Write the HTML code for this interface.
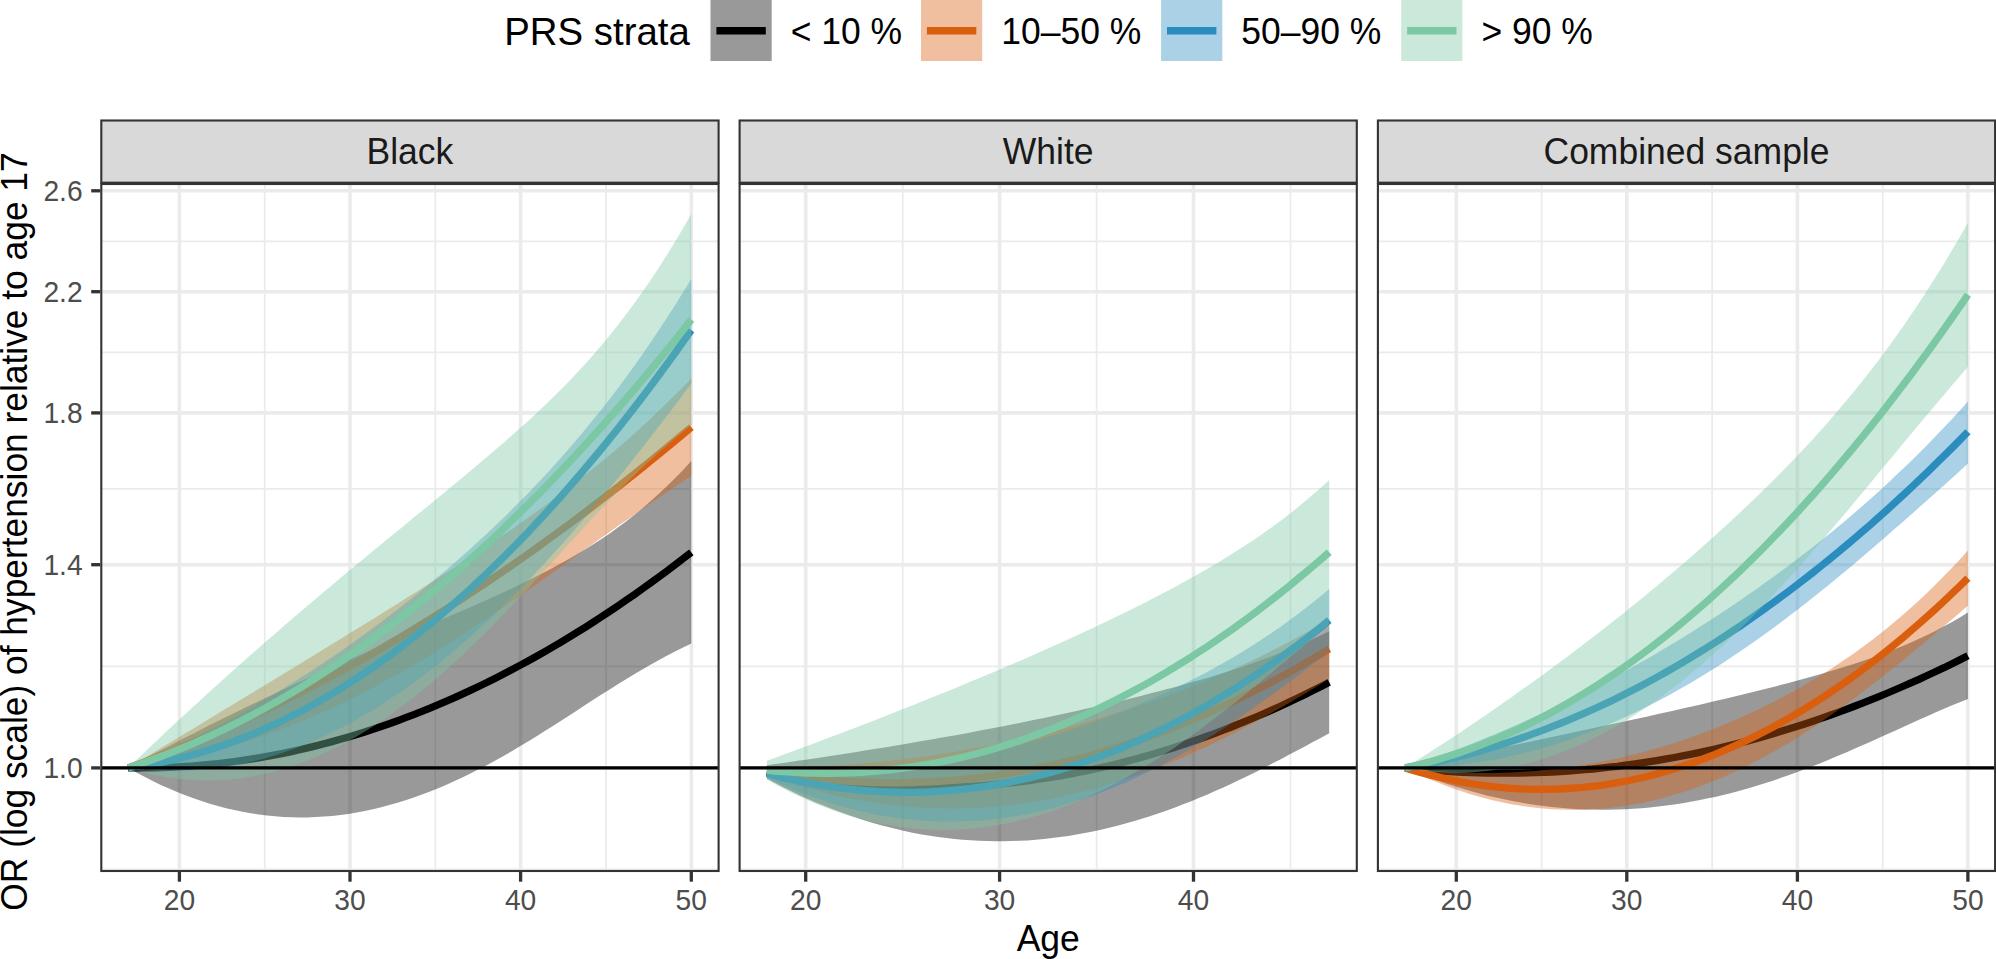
<!DOCTYPE html>
<html><head><meta charset="utf-8"><title>PRS strata</title>
<style>html,body{margin:0;padding:0;background:#fff;width:1996px;height:959px;overflow:hidden}svg{display:block}text{font-family:"Liberation Sans",sans-serif}</style></head>
<body>
<svg width="1996" height="959" viewBox="0 0 1996 959">
<rect width="1996" height="959" fill="#fff"/>
<g id="legend">
<text transform="translate(504.2,44.7) scale(1,1.035)" font-size="38.4" fill="#000">PRS strata</text>
<line x1="716.4" y1="30.7" x2="765.8" y2="30.7" stroke="#000000" stroke-width="7.4"/>
<rect x="710.5" y="-0.2" width="61.2" height="61.2" fill="#000000" fill-opacity="0.4"/>
<text transform="translate(790.7,43.6) scale(1,1.035)" font-size="35.5" fill="#000">&lt; 10 %</text>
<line x1="926.9" y1="30.7" x2="976.3" y2="30.7" stroke="#d95f0e" stroke-width="7.4"/>
<rect x="921.0" y="-0.2" width="61.2" height="61.2" fill="#d95f0e" fill-opacity="0.4"/>
<text transform="translate(1001.2,43.6) scale(1,1.035)" font-size="35.5" fill="#000">10–50 %</text>
<line x1="1167.0" y1="30.7" x2="1216.4" y2="30.7" stroke="#2b8cbe" stroke-width="7.4"/>
<rect x="1161.1" y="-0.2" width="61.2" height="61.2" fill="#2b8cbe" fill-opacity="0.4"/>
<text transform="translate(1241.3,43.6) scale(1,1.035)" font-size="35.5" fill="#000">50–90 %</text>
<line x1="1407.1" y1="30.7" x2="1456.5" y2="30.7" stroke="#7cc8a4" stroke-width="7.4"/>
<rect x="1401.2" y="-0.2" width="61.2" height="61.2" fill="#7cc8a4" fill-opacity="0.4"/>
<text transform="translate(1481.4,43.6) scale(1,1.035)" font-size="35.5" fill="#000">&gt; 90 %</text>
</g>
<g id="panel0">
<rect x="101.3" y="120.5" width="617.3" height="62.2" fill="#d9d9d9" stroke="#333" stroke-width="2.1"/>
<text transform="translate(409.9,163.8) scale(1,1.035)" font-size="35.5" fill="#1a1a1a" text-anchor="middle">Black</text>
<clipPath id="cp0"><rect x="101.3" y="184.0" width="617.3" height="687.0"/></clipPath>
<g clip-path="url(#cp0)">
<line x1="101.3" x2="718.6" y1="666.3" y2="666.3" stroke="#ebebeb" stroke-width="1.75"/>
<line x1="101.3" x2="718.6" y1="488.8" y2="488.8" stroke="#ebebeb" stroke-width="1.75"/>
<line x1="101.3" x2="718.6" y1="352.3" y2="352.3" stroke="#ebebeb" stroke-width="1.75"/>
<line x1="101.3" x2="718.6" y1="241.3" y2="241.3" stroke="#ebebeb" stroke-width="1.75"/>
<line x1="101.3" x2="718.6" y1="869.4" y2="869.4" stroke="#ebebeb" stroke-width="1.75"/>
<line x1="264.7" x2="264.7" y1="184.0" y2="871.0" stroke="#ebebeb" stroke-width="1.75"/>
<line x1="435.3" x2="435.3" y1="184.0" y2="871.0" stroke="#ebebeb" stroke-width="1.75"/>
<line x1="606.0" x2="606.0" y1="184.0" y2="871.0" stroke="#ebebeb" stroke-width="1.75"/>
<line x1="101.3" x2="718.6" y1="767.9" y2="767.9" stroke="#ebebeb" stroke-width="3.6"/>
<line x1="101.3" x2="718.6" y1="564.7" y2="564.7" stroke="#ebebeb" stroke-width="3.6"/>
<line x1="101.3" x2="718.6" y1="412.9" y2="412.9" stroke="#ebebeb" stroke-width="3.6"/>
<line x1="101.3" x2="718.6" y1="291.7" y2="291.7" stroke="#ebebeb" stroke-width="3.6"/>
<line x1="101.3" x2="718.6" y1="190.8" y2="190.8" stroke="#ebebeb" stroke-width="3.6"/>
<line x1="179.4" x2="179.4" y1="184.0" y2="871.0" stroke="#ebebeb" stroke-width="3.6"/>
<line x1="350.0" x2="350.0" y1="184.0" y2="871.0" stroke="#ebebeb" stroke-width="3.6"/>
<line x1="520.6" x2="520.6" y1="184.0" y2="871.0" stroke="#ebebeb" stroke-width="3.6"/>
<line x1="691.3" x2="691.3" y1="184.0" y2="871.0" stroke="#ebebeb" stroke-width="3.6"/>
<polygon points="128.2,767.9 136.3,763.4 144.5,759.0 152.7,754.6 160.8,750.3 169.0,746.0 177.1,741.8 185.3,737.6 193.5,733.4 201.6,729.2 209.8,725.1 217.9,721.0 226.1,717.0 234.3,713.0 242.4,709.0 250.6,705.1 258.7,701.2 266.9,697.3 275.1,693.4 283.2,689.6 291.4,685.8 299.6,682.1 307.7,678.3 315.9,674.6 324.0,670.9 332.2,667.3 340.4,663.7 348.5,660.0 356.7,656.4 364.8,652.9 373.0,649.3 381.2,645.8 389.3,642.2 397.5,638.7 405.6,635.2 413.8,631.7 422.0,628.2 430.1,624.7 438.3,621.1 446.5,617.6 454.6,614.1 462.8,610.5 470.9,606.9 479.1,603.3 487.3,599.7 495.4,596.0 503.6,592.2 511.7,588.4 519.9,584.5 528.1,580.6 536.2,576.5 544.4,572.3 552.5,568.0 560.7,563.6 568.9,559.1 577.0,554.3 585.2,549.4 593.3,544.3 601.5,539.0 609.7,533.4 617.8,527.6 626.0,521.4 634.2,515.1 642.3,508.4 650.5,501.3 658.6,494.0 666.8,486.3 675.0,478.3 683.1,469.9 691.3,461.1 691.3,643.6 683.1,647.5 675.0,651.6 666.8,655.8 658.6,660.2 650.5,664.8 642.3,669.5 634.2,674.3 626.0,679.2 617.8,684.3 609.7,689.4 601.5,694.6 593.3,699.8 585.2,705.1 577.0,710.4 568.9,715.7 560.7,720.9 552.5,726.2 544.4,731.3 536.2,736.4 528.1,741.4 519.9,746.3 511.7,751.2 503.6,755.9 495.4,760.4 487.3,764.9 479.1,769.1 470.9,773.3 462.8,777.3 454.6,781.1 446.5,784.7 438.3,788.2 430.1,791.5 422.0,794.6 413.8,797.5 405.6,800.3 397.5,802.8 389.3,805.1 381.2,807.3 373.0,809.2 364.8,811.0 356.7,812.5 348.5,813.9 340.4,815.0 332.2,815.9 324.0,816.6 315.9,817.1 307.7,817.4 299.6,817.4 291.4,817.3 283.2,816.9 275.1,816.3 266.9,815.5 258.7,814.5 250.6,813.3 242.4,811.8 234.3,810.1 226.1,808.2 217.9,806.1 209.8,803.7 201.6,801.1 193.5,798.3 185.3,795.3 177.1,792.1 169.0,788.6 160.8,784.9 152.7,781.0 144.5,776.8 136.3,772.5 128.2,767.9" fill="#000000" fill-opacity="0.4"/>
<polyline points="128.2,767.9 136.3,767.9 144.5,767.9 152.7,767.8 160.8,767.6 169.0,767.3 177.1,766.9 185.3,766.4 193.5,765.9 201.6,765.2 209.8,764.4 217.9,763.6 226.1,762.6 234.3,761.5 242.4,760.4 250.6,759.2 258.7,757.8 266.9,756.4 275.1,754.9 283.2,753.3 291.4,751.6 299.6,749.8 307.7,747.9 315.9,745.9 324.0,743.8 332.2,741.6 340.4,739.3 348.5,736.9 356.7,734.5 364.8,731.9 373.0,729.3 381.2,726.5 389.3,723.7 397.5,720.8 405.6,717.7 413.8,714.6 422.0,711.4 430.1,708.1 438.3,704.7 446.5,701.2 454.6,697.6 462.8,693.9 470.9,690.1 479.1,686.2 487.3,682.3 495.4,678.2 503.6,674.0 511.7,669.8 519.9,665.4 528.1,661.0 536.2,656.5 544.4,651.8 552.5,647.1 560.7,642.3 568.9,637.4 577.0,632.4 585.2,627.3 593.3,622.1 601.5,616.8 609.7,611.4 617.8,605.9 626.0,600.3 634.2,594.7 642.3,588.9 650.5,583.1 658.6,577.1 666.8,571.1 675.0,564.9 683.1,558.7 691.3,552.4" fill="none" stroke="#000000" stroke-width="7.3" stroke-linejoin="round"/>
<polygon points="128.2,767.9 136.3,762.9 144.5,758.0 152.7,753.0 160.8,748.1 169.0,743.2 177.1,738.2 185.3,733.3 193.5,728.4 201.6,723.4 209.8,718.5 217.9,713.5 226.1,708.6 234.3,703.7 242.4,698.7 250.6,693.8 258.7,688.8 266.9,683.9 275.1,678.9 283.2,674.0 291.4,669.0 299.6,664.0 307.7,659.1 315.9,654.1 324.0,649.1 332.2,644.1 340.4,639.1 348.5,634.1 356.7,629.1 364.8,624.0 373.0,619.0 381.2,613.9 389.3,608.8 397.5,603.7 405.6,598.6 413.8,593.5 422.0,588.3 430.1,583.1 438.3,577.9 446.5,572.7 454.6,567.4 462.8,562.1 470.9,556.7 479.1,551.3 487.3,545.9 495.4,540.4 503.6,534.8 511.7,529.2 519.9,523.5 528.1,517.8 536.2,512.0 544.4,506.0 552.5,500.0 560.7,493.9 568.9,487.7 577.0,481.4 585.2,475.0 593.3,468.5 601.5,461.8 609.7,455.0 617.8,448.0 626.0,440.9 634.2,433.7 642.3,426.3 650.5,418.7 658.6,411.0 666.8,403.1 675.0,395.1 683.1,386.9 691.3,378.5 691.3,475.9 683.1,481.3 675.0,486.7 666.8,492.2 658.6,497.8 650.5,503.4 642.3,509.0 634.2,514.7 626.0,520.4 617.8,526.1 609.7,531.9 601.5,537.7 593.3,543.5 585.2,549.4 577.0,555.2 568.9,561.1 560.7,566.9 552.5,572.8 544.4,578.6 536.2,584.4 528.1,590.1 519.9,595.9 511.7,601.5 503.6,607.2 495.4,612.8 487.3,618.3 479.1,623.7 470.9,629.1 462.8,634.5 454.6,639.7 446.5,644.9 438.3,650.0 430.1,655.0 422.0,659.9 413.8,664.7 405.6,669.4 397.5,674.1 389.3,678.6 381.2,683.1 373.0,687.4 364.8,691.7 356.7,695.8 348.5,699.9 340.4,703.8 332.2,707.7 324.0,711.4 315.9,715.0 307.7,718.5 299.6,722.0 291.4,725.3 283.2,728.5 275.1,731.5 266.9,734.5 258.7,737.4 250.6,740.1 242.4,742.8 234.3,745.3 226.1,747.7 217.9,750.0 209.8,752.2 201.6,754.3 193.5,756.3 185.3,758.1 177.1,759.9 169.0,761.5 160.8,763.0 152.7,764.4 144.5,765.6 136.3,766.8 128.2,767.9" fill="#d95f0e" fill-opacity="0.4"/>
<polyline points="128.2,767.9 136.3,764.9 144.5,761.8 152.7,758.7 160.8,755.5 169.0,752.3 177.1,749.0 185.3,745.7 193.5,742.3 201.6,738.9 209.8,735.4 217.9,731.8 226.1,728.2 234.3,724.5 242.4,720.8 250.6,717.0 258.7,713.1 266.9,709.2 275.1,705.2 283.2,701.2 291.4,697.1 299.6,693.0 307.7,688.8 315.9,684.6 324.0,680.3 332.2,675.9 340.4,671.5 348.5,667.0 356.7,662.4 364.8,657.9 373.0,653.2 381.2,648.5 389.3,643.7 397.5,638.9 405.6,634.0 413.8,629.1 422.0,624.1 430.1,619.0 438.3,613.9 446.5,608.8 454.6,603.5 462.8,598.3 470.9,592.9 479.1,587.5 487.3,582.1 495.4,576.6 503.6,571.0 511.7,565.4 519.9,559.7 528.1,554.0 536.2,548.2 544.4,542.3 552.5,536.4 560.7,530.4 568.9,524.4 577.0,518.3 585.2,512.2 593.3,506.0 601.5,499.7 609.7,493.4 617.8,487.1 626.0,480.6 634.2,474.2 642.3,467.6 650.5,461.0 658.6,454.4 666.8,447.7 675.0,440.9 683.1,434.1 691.3,427.2" fill="none" stroke="#d95f0e" stroke-width="7.3" stroke-linejoin="round"/>
<polygon points="128.2,767.9 136.3,764.4 144.5,760.9 152.7,757.4 160.8,753.7 169.0,750.0 177.1,746.1 185.3,742.2 193.5,738.2 201.6,734.1 209.8,730.0 217.9,725.7 226.1,721.4 234.3,716.9 242.4,712.4 250.6,707.8 258.7,703.1 266.9,698.4 275.1,693.5 283.2,688.5 291.4,683.5 299.6,678.4 307.7,673.2 315.9,667.9 324.0,662.4 332.2,657.0 340.4,651.4 348.5,645.7 356.7,639.9 364.8,634.0 373.0,628.1 381.2,622.0 389.3,615.8 397.5,609.6 405.6,603.2 413.8,596.7 422.0,590.1 430.1,583.4 438.3,576.6 446.5,569.7 454.6,562.7 462.8,555.5 470.9,548.2 479.1,540.8 487.3,533.2 495.4,525.5 503.6,517.7 511.7,509.7 519.9,501.5 528.1,493.2 536.2,484.7 544.4,476.0 552.5,467.2 560.7,458.1 568.9,448.8 577.0,439.3 585.2,429.6 593.3,419.6 601.5,409.4 609.7,399.0 617.8,388.3 626.0,377.3 634.2,366.0 642.3,354.4 650.5,342.6 658.6,330.5 666.8,318.1 675.0,305.3 683.1,292.3 691.3,279.1 691.3,383.7 683.1,394.6 675.0,405.4 666.8,416.1 658.6,426.7 650.5,437.2 642.3,447.7 634.2,458.0 626.0,468.2 617.8,478.3 609.7,488.3 601.5,498.2 593.3,507.9 585.2,517.6 577.0,527.0 568.9,536.4 560.7,545.6 552.5,554.6 544.4,563.5 536.2,572.2 528.1,580.8 519.9,589.2 511.7,597.5 503.6,605.5 495.4,613.4 487.3,621.2 479.1,628.7 470.9,636.1 462.8,643.3 454.6,650.3 446.5,657.1 438.3,663.7 430.1,670.2 422.0,676.4 413.8,682.5 405.6,688.4 397.5,694.0 389.3,699.5 381.2,704.8 373.0,709.9 364.8,714.8 356.7,719.5 348.5,724.0 340.4,728.3 332.2,732.3 324.0,736.2 315.9,739.9 307.7,743.4 299.6,746.7 291.4,749.7 283.2,752.6 275.1,755.3 266.9,757.7 258.7,760.0 250.6,762.0 242.4,763.9 234.3,765.5 226.1,766.9 217.9,768.2 209.8,769.2 201.6,770.0 193.5,770.6 185.3,771.0 177.1,771.2 169.0,771.1 160.8,770.9 152.7,770.4 144.5,769.8 136.3,768.9 128.2,767.9" fill="#2b8cbe" fill-opacity="0.4"/>
<polyline points="128.2,767.9 136.3,766.7 144.5,765.4 152.7,764.0 160.8,762.4 169.0,760.7 177.1,758.8 185.3,756.7 193.5,754.5 201.6,752.2 209.8,749.7 217.9,747.0 226.1,744.2 234.3,741.2 242.4,738.1 250.6,734.8 258.7,731.4 266.9,727.8 275.1,724.1 283.2,720.2 291.4,716.1 299.6,711.9 307.7,707.6 315.9,703.1 324.0,698.4 332.2,693.6 340.4,688.7 348.5,683.5 356.7,678.3 364.8,672.8 373.0,667.3 381.2,661.5 389.3,655.7 397.5,649.6 405.6,643.4 413.8,637.1 422.0,630.6 430.1,623.9 438.3,617.1 446.5,610.2 454.6,603.1 462.8,595.8 470.9,588.4 479.1,580.8 487.3,573.1 495.4,565.2 503.6,557.2 511.7,549.0 519.9,540.7 528.1,532.2 536.2,523.5 544.4,514.7 552.5,505.8 560.7,496.7 568.9,487.4 577.0,478.0 585.2,468.4 593.3,458.7 601.5,448.9 609.7,438.8 617.8,428.7 626.0,418.3 634.2,407.8 642.3,397.2 650.5,386.4 658.6,375.5 666.8,364.4 675.0,353.1 683.1,341.7 691.3,330.2" fill="none" stroke="#2b8cbe" stroke-width="7.3" stroke-linejoin="round"/>
<polygon points="128.2,767.9 136.3,760.0 144.5,752.2 152.7,744.5 160.8,736.8 169.0,729.1 177.1,721.5 185.3,714.0 193.5,706.5 201.6,699.0 209.8,691.6 217.9,684.2 226.1,676.8 234.3,669.5 242.4,662.3 250.6,655.1 258.7,647.9 266.9,640.8 275.1,633.7 283.2,626.6 291.4,619.6 299.6,612.6 307.7,605.6 315.9,598.7 324.0,591.8 332.2,585.0 340.4,578.1 348.5,571.3 356.7,564.6 364.8,557.8 373.0,551.1 381.2,544.3 389.3,537.6 397.5,530.9 405.6,524.3 413.8,517.6 422.0,510.9 430.1,504.2 438.3,497.5 446.5,490.8 454.6,484.1 462.8,477.3 470.9,470.5 479.1,463.6 487.3,456.7 495.4,449.8 503.6,442.7 511.7,435.5 519.9,428.3 528.1,420.9 536.2,413.4 544.4,405.7 552.5,397.8 560.7,389.7 568.9,381.4 577.0,372.8 585.2,363.9 593.3,354.8 601.5,345.3 609.7,335.4 617.8,325.2 626.0,314.6 634.2,303.6 642.3,292.1 650.5,280.2 658.6,267.9 666.8,255.1 675.0,241.8 683.1,228.2 691.3,214.0 691.3,425.2 683.1,431.7 675.0,438.5 666.8,445.4 658.6,452.6 650.5,460.0 642.3,467.6 634.2,475.5 626.0,483.5 617.8,491.7 609.7,500.1 601.5,508.6 593.3,517.3 585.2,526.1 577.0,534.9 568.9,543.8 560.7,552.8 552.5,561.7 544.4,570.7 536.2,579.6 528.1,588.4 519.9,597.1 511.7,605.8 503.6,614.3 495.4,622.7 487.3,631.0 479.1,639.1 470.9,647.1 462.8,654.8 454.6,662.4 446.5,669.8 438.3,676.9 430.1,683.9 422.0,690.7 413.8,697.2 405.6,703.5 397.5,709.6 389.3,715.4 381.2,721.1 373.0,726.4 364.8,731.6 356.7,736.4 348.5,741.1 340.4,745.5 332.2,749.6 324.0,753.5 315.9,757.1 307.7,760.5 299.6,763.6 291.4,766.5 283.2,769.1 275.1,771.4 266.9,773.5 258.7,775.3 250.6,776.8 242.4,778.1 234.3,779.1 226.1,779.9 217.9,780.3 209.8,780.6 201.6,780.5 193.5,780.2 185.3,779.6 177.1,778.7 169.0,777.6 160.8,776.2 152.7,774.5 144.5,772.6 136.3,770.3 128.2,767.9" fill="#7cc8a4" fill-opacity="0.4"/>
<polyline points="128.2,767.9 136.3,765.2 144.5,762.4 152.7,759.5 160.8,756.5 169.0,753.4 177.1,750.1 185.3,746.8 193.5,743.3 201.6,739.7 209.8,736.1 217.9,732.3 226.1,728.4 234.3,724.3 242.4,720.2 250.6,715.9 258.7,711.6 266.9,707.1 275.1,702.5 283.2,697.8 291.4,693.0 299.6,688.1 307.7,683.1 315.9,677.9 324.0,672.7 332.2,667.3 340.4,661.8 348.5,656.2 356.7,650.5 364.8,644.7 373.0,638.7 381.2,632.7 389.3,626.5 397.5,620.3 405.6,613.9 413.8,607.4 422.0,600.8 430.1,594.1 438.3,587.2 446.5,580.3 454.6,573.2 462.8,566.1 470.9,558.8 479.1,551.4 487.3,543.9 495.4,536.3 503.6,528.5 511.7,520.7 519.9,512.7 528.1,504.6 536.2,496.5 544.4,488.2 552.5,479.8 560.7,471.2 568.9,462.6 577.0,453.9 585.2,445.0 593.3,436.0 601.5,427.0 609.7,417.8 617.8,408.5 626.0,399.0 634.2,389.5 642.3,379.9 650.5,370.1 658.6,360.2 666.8,350.3 675.0,340.2 683.1,330.0 691.3,319.6" fill="none" stroke="#7cc8a4" stroke-width="7.3" stroke-linejoin="round"/>
<line x1="101.3" x2="718.6" y1="767.85" y2="767.85" stroke="#000" stroke-width="3.4"/>
</g>
<rect x="101.3" y="184.0" width="617.3" height="687.0" fill="none" stroke="#333" stroke-width="2.1"/>
<line x1="179.4" x2="179.4" y1="872.0" y2="881.7" stroke="#333" stroke-width="3.3"/>
<text transform="translate(179.4,910.2) scale(1,1.035)" font-size="28.2" fill="#4d4d4d" text-anchor="middle">20</text>
<line x1="350.0" x2="350.0" y1="872.0" y2="881.7" stroke="#333" stroke-width="3.3"/>
<text transform="translate(350.0,910.2) scale(1,1.035)" font-size="28.2" fill="#4d4d4d" text-anchor="middle">30</text>
<line x1="520.6" x2="520.6" y1="872.0" y2="881.7" stroke="#333" stroke-width="3.3"/>
<text transform="translate(520.6,910.2) scale(1,1.035)" font-size="28.2" fill="#4d4d4d" text-anchor="middle">40</text>
<line x1="691.3" x2="691.3" y1="872.0" y2="881.7" stroke="#333" stroke-width="3.3"/>
<text transform="translate(691.3,910.2) scale(1,1.035)" font-size="28.2" fill="#4d4d4d" text-anchor="middle">50</text>
</g>
<g id="panel1">
<rect x="739.6" y="120.5" width="617.2" height="62.2" fill="#d9d9d9" stroke="#333" stroke-width="2.1"/>
<text transform="translate(1048.2,163.8) scale(1,1.035)" font-size="35.5" fill="#1a1a1a" text-anchor="middle">White</text>
<clipPath id="cp1"><rect x="739.6" y="184.0" width="617.2" height="687.0"/></clipPath>
<g clip-path="url(#cp1)">
<line x1="739.6" x2="1356.8" y1="666.3" y2="666.3" stroke="#ebebeb" stroke-width="1.75"/>
<line x1="739.6" x2="1356.8" y1="488.8" y2="488.8" stroke="#ebebeb" stroke-width="1.75"/>
<line x1="739.6" x2="1356.8" y1="352.3" y2="352.3" stroke="#ebebeb" stroke-width="1.75"/>
<line x1="739.6" x2="1356.8" y1="241.3" y2="241.3" stroke="#ebebeb" stroke-width="1.75"/>
<line x1="739.6" x2="1356.8" y1="869.4" y2="869.4" stroke="#ebebeb" stroke-width="1.75"/>
<line x1="902.7" x2="902.7" y1="184.0" y2="871.0" stroke="#ebebeb" stroke-width="1.75"/>
<line x1="1096.6" x2="1096.6" y1="184.0" y2="871.0" stroke="#ebebeb" stroke-width="1.75"/>
<line x1="1290.5" x2="1290.5" y1="184.0" y2="871.0" stroke="#ebebeb" stroke-width="1.75"/>
<line x1="739.6" x2="1356.8" y1="767.9" y2="767.9" stroke="#ebebeb" stroke-width="3.6"/>
<line x1="739.6" x2="1356.8" y1="564.7" y2="564.7" stroke="#ebebeb" stroke-width="3.6"/>
<line x1="739.6" x2="1356.8" y1="412.9" y2="412.9" stroke="#ebebeb" stroke-width="3.6"/>
<line x1="739.6" x2="1356.8" y1="291.7" y2="291.7" stroke="#ebebeb" stroke-width="3.6"/>
<line x1="739.6" x2="1356.8" y1="190.8" y2="190.8" stroke="#ebebeb" stroke-width="3.6"/>
<line x1="805.7" x2="805.7" y1="184.0" y2="871.0" stroke="#ebebeb" stroke-width="3.6"/>
<line x1="999.6" x2="999.6" y1="184.0" y2="871.0" stroke="#ebebeb" stroke-width="3.6"/>
<line x1="1193.5" x2="1193.5" y1="184.0" y2="871.0" stroke="#ebebeb" stroke-width="3.6"/>
<polygon points="766.9,765.2 775.1,764.1 783.2,762.9 791.4,761.8 799.5,760.6 807.7,759.4 815.8,758.2 824.0,757.0 832.1,755.7 840.3,754.5 848.4,753.2 856.6,751.9 864.7,750.6 872.9,749.3 881.0,748.0 889.2,746.7 897.3,745.3 905.5,743.9 913.6,742.6 921.8,741.1 929.9,739.7 938.1,738.3 946.2,736.8 954.4,735.4 962.5,733.9 970.7,732.4 978.8,730.8 987.0,729.3 995.1,727.7 1003.3,726.2 1011.4,724.6 1019.6,722.9 1027.7,721.3 1035.9,719.6 1044.0,717.9 1052.1,716.2 1060.3,714.5 1068.4,712.7 1076.6,711.0 1084.7,709.1 1092.9,707.3 1101.0,705.4 1109.2,703.6 1117.3,701.6 1125.5,699.7 1133.6,697.7 1141.8,695.7 1149.9,693.6 1158.1,691.5 1166.2,689.3 1174.4,687.2 1182.5,684.9 1190.7,682.6 1198.8,680.3 1207.0,677.9 1215.1,675.4 1223.3,672.9 1231.4,670.3 1239.6,667.7 1247.7,664.9 1255.9,662.1 1264.0,659.1 1272.2,656.1 1280.3,653.0 1288.5,649.7 1296.6,646.3 1304.8,642.8 1312.9,639.1 1321.1,635.2 1329.2,631.2 1329.2,733.3 1321.1,737.7 1312.9,742.0 1304.8,746.4 1296.6,750.8 1288.5,755.1 1280.3,759.4 1272.2,763.6 1264.0,767.8 1255.9,771.9 1247.7,775.9 1239.6,779.8 1231.4,783.7 1223.3,787.4 1215.1,791.1 1207.0,794.7 1198.8,798.1 1190.7,801.4 1182.5,804.6 1174.4,807.7 1166.2,810.7 1158.1,813.6 1149.9,816.3 1141.8,818.8 1133.6,821.3 1125.5,823.6 1117.3,825.8 1109.2,827.8 1101.0,829.7 1092.9,831.5 1084.7,833.1 1076.6,834.6 1068.4,835.9 1060.3,837.1 1052.1,838.1 1044.0,839.0 1035.9,839.8 1027.7,840.4 1019.6,840.8 1011.4,841.1 1003.3,841.3 995.1,841.3 987.0,841.1 978.8,840.8 970.7,840.3 962.5,839.7 954.4,839.0 946.2,838.0 938.1,837.0 929.9,835.8 921.8,834.4 913.6,832.9 905.5,831.2 897.3,829.3 889.2,827.3 881.0,825.2 872.9,822.9 864.7,820.4 856.6,817.8 848.4,815.0 840.3,812.1 832.1,809.0 824.0,805.8 815.8,802.4 807.7,798.9 799.5,795.2 791.4,791.3 783.2,787.3 775.1,783.1 766.9,778.8" fill="#000000" fill-opacity="0.4"/>
<polyline points="766.9,772.0 775.1,773.6 783.2,775.1 791.4,776.5 799.5,777.9 807.7,779.1 815.8,780.3 824.0,781.4 832.1,782.4 840.3,783.3 848.4,784.1 856.6,784.9 864.7,785.5 872.9,786.1 881.0,786.6 889.2,787.0 897.3,787.3 905.5,787.6 913.6,787.7 921.8,787.8 929.9,787.7 938.1,787.6 946.2,787.4 954.4,787.2 962.5,786.8 970.7,786.4 978.8,785.8 987.0,785.2 995.1,784.5 1003.3,783.7 1011.4,782.8 1019.6,781.9 1027.7,780.8 1035.9,779.7 1044.0,778.5 1052.1,777.2 1060.3,775.8 1068.4,774.3 1076.6,772.8 1084.7,771.1 1092.9,769.4 1101.0,767.6 1109.2,765.7 1117.3,763.7 1125.5,761.6 1133.6,759.5 1141.8,757.3 1149.9,754.9 1158.1,752.5 1166.2,750.0 1174.4,747.4 1182.5,744.8 1190.7,742.0 1198.8,739.2 1207.0,736.3 1215.1,733.3 1223.3,730.2 1231.4,727.0 1239.6,723.7 1247.7,720.4 1255.9,717.0 1264.0,713.5 1272.2,709.9 1280.3,706.2 1288.5,702.4 1296.6,698.5 1304.8,694.6 1312.9,690.6 1321.1,686.5 1329.2,682.3" fill="none" stroke="#000000" stroke-width="7.3" stroke-linejoin="round"/>
<polygon points="766.9,767.9 775.1,767.8 783.2,767.7 791.4,767.5 799.5,767.2 807.7,766.9 815.8,766.6 824.0,766.2 832.1,765.7 840.3,765.2 848.4,764.6 856.6,763.9 864.7,763.3 872.9,762.5 881.0,761.7 889.2,760.8 897.3,759.9 905.5,758.9 913.6,757.9 921.8,756.8 929.9,755.7 938.1,754.5 946.2,753.2 954.4,751.9 962.5,750.5 970.7,749.1 978.8,747.6 987.0,746.0 995.1,744.4 1003.3,742.8 1011.4,741.0 1019.6,739.2 1027.7,737.4 1035.9,735.5 1044.0,733.5 1052.1,731.5 1060.3,729.4 1068.4,727.2 1076.6,725.0 1084.7,722.7 1092.9,720.4 1101.0,718.0 1109.2,715.5 1117.3,713.0 1125.5,710.4 1133.6,707.7 1141.8,705.0 1149.9,702.2 1158.1,699.3 1166.2,696.4 1174.4,693.3 1182.5,690.2 1190.7,687.1 1198.8,683.8 1207.0,680.5 1215.1,677.1 1223.3,673.6 1231.4,670.0 1239.6,666.3 1247.7,662.5 1255.9,658.7 1264.0,654.7 1272.2,650.6 1280.3,646.5 1288.5,642.2 1296.6,637.8 1304.8,633.3 1312.9,628.6 1321.1,623.8 1329.2,618.9 1329.2,678.8 1321.1,683.8 1312.9,688.8 1304.8,693.7 1296.6,698.5 1288.5,703.3 1280.3,708.0 1272.2,712.6 1264.0,717.1 1255.9,721.6 1247.7,725.9 1239.6,730.2 1231.4,734.4 1223.3,738.5 1215.1,742.5 1207.0,746.4 1198.8,750.1 1190.7,753.8 1182.5,757.4 1174.4,760.8 1166.2,764.1 1158.1,767.4 1149.9,770.5 1141.8,773.5 1133.6,776.3 1125.5,779.1 1117.3,781.7 1109.2,784.3 1101.0,786.7 1092.9,788.9 1084.7,791.1 1076.6,793.1 1068.4,795.0 1060.3,796.8 1052.1,798.4 1044.0,800.0 1035.9,801.4 1027.7,802.6 1019.6,803.8 1011.4,804.8 1003.3,805.7 995.1,806.5 987.0,807.1 978.8,807.6 970.7,808.0 962.5,808.2 954.4,808.4 946.2,808.3 938.1,808.2 929.9,807.9 921.8,807.6 913.6,807.0 905.5,806.4 897.3,805.6 889.2,804.7 881.0,803.6 872.9,802.4 864.7,801.1 856.6,799.7 848.4,798.1 840.3,796.4 832.1,794.6 824.0,792.6 815.8,790.5 807.7,788.3 799.5,786.0 791.4,783.5 783.2,780.9 775.1,778.1 766.9,775.2" fill="#d95f0e" fill-opacity="0.4"/>
<polyline points="766.9,771.6 775.1,773.0 783.2,774.3 791.4,775.5 799.5,776.6 807.7,777.6 815.8,778.6 824.0,779.4 832.1,780.1 840.3,780.8 848.4,781.4 856.6,781.8 864.7,782.2 872.9,782.5 881.0,782.7 889.2,782.8 897.3,782.8 905.5,782.7 913.6,782.5 921.8,782.2 929.9,781.8 938.1,781.3 946.2,780.8 954.4,780.1 962.5,779.4 970.7,778.5 978.8,777.6 987.0,776.6 995.1,775.4 1003.3,774.2 1011.4,772.9 1019.6,771.5 1027.7,770.0 1035.9,768.4 1044.0,766.7 1052.1,765.0 1060.3,763.1 1068.4,761.1 1076.6,759.1 1084.7,756.9 1092.9,754.7 1101.0,752.3 1109.2,749.9 1117.3,747.4 1125.5,744.7 1133.6,742.0 1141.8,739.2 1149.9,736.3 1158.1,733.3 1166.2,730.3 1174.4,727.1 1182.5,723.8 1190.7,720.4 1198.8,717.0 1207.0,713.4 1215.1,709.8 1223.3,706.0 1231.4,702.2 1239.6,698.3 1247.7,694.2 1255.9,690.1 1264.0,685.9 1272.2,681.6 1280.3,677.2 1288.5,672.7 1296.6,668.1 1304.8,663.5 1312.9,658.7 1321.1,653.8 1329.2,648.9" fill="none" stroke="#d95f0e" stroke-width="7.3" stroke-linejoin="round"/>
<polygon points="766.9,769.2 775.1,769.6 783.2,770.0 791.4,770.3 799.5,770.5 807.7,770.6 815.8,770.6 824.0,770.5 832.1,770.4 840.3,770.2 848.4,769.9 856.6,769.5 864.7,769.1 872.9,768.5 881.0,767.9 889.2,767.2 897.3,766.4 905.5,765.6 913.6,764.6 921.8,763.6 929.9,762.5 938.1,761.3 946.2,760.0 954.4,758.6 962.5,757.2 970.7,755.7 978.8,754.0 987.0,752.3 995.1,750.6 1003.3,748.7 1011.4,746.7 1019.6,744.7 1027.7,742.6 1035.9,740.3 1044.0,738.0 1052.1,735.7 1060.3,733.2 1068.4,730.6 1076.6,727.9 1084.7,725.2 1092.9,722.3 1101.0,719.4 1109.2,716.4 1117.3,713.2 1125.5,710.0 1133.6,706.7 1141.8,703.3 1149.9,699.7 1158.1,696.1 1166.2,692.4 1174.4,688.5 1182.5,684.6 1190.7,680.5 1198.8,676.3 1207.0,672.0 1215.1,667.6 1223.3,663.0 1231.4,658.3 1239.6,653.4 1247.7,648.4 1255.9,643.3 1264.0,638.0 1272.2,632.5 1280.3,626.9 1288.5,621.0 1296.6,615.0 1304.8,608.8 1312.9,602.4 1321.1,595.8 1329.2,588.9 1329.2,651.6 1321.1,657.9 1312.9,664.1 1304.8,670.4 1296.6,676.5 1288.5,682.6 1280.3,688.7 1272.2,694.6 1264.0,700.5 1255.9,706.3 1247.7,712.0 1239.6,717.6 1231.4,723.1 1223.3,728.5 1215.1,733.7 1207.0,738.8 1198.8,743.8 1190.7,748.7 1182.5,753.4 1174.4,758.0 1166.2,762.4 1158.1,766.7 1149.9,770.9 1141.8,774.8 1133.6,778.7 1125.5,782.4 1117.3,785.9 1109.2,789.2 1101.0,792.4 1092.9,795.5 1084.7,798.4 1076.6,801.1 1068.4,803.6 1060.3,806.0 1052.1,808.2 1044.0,810.3 1035.9,812.1 1027.7,813.9 1019.6,815.4 1011.4,816.8 1003.3,818.0 995.1,819.0 987.0,819.9 978.8,820.6 970.7,821.1 962.5,821.4 954.4,821.6 946.2,821.6 938.1,821.5 929.9,821.1 921.8,820.6 913.6,819.9 905.5,819.0 897.3,818.0 889.2,816.8 881.0,815.4 872.9,813.9 864.7,812.1 856.6,810.2 848.4,808.1 840.3,805.9 832.1,803.4 824.0,800.8 815.8,798.1 807.7,795.1 799.5,792.0 791.4,788.7 783.2,785.2 775.1,781.5 766.9,777.7" fill="#2b8cbe" fill-opacity="0.4"/>
<polyline points="766.9,773.4 775.1,775.6 783.2,777.6 791.4,779.5 799.5,781.2 807.7,782.8 815.8,784.3 824.0,785.7 832.1,786.9 840.3,788.0 848.4,789.0 856.6,789.9 864.7,790.6 872.9,791.2 881.0,791.7 889.2,792.0 897.3,792.2 905.5,792.3 913.6,792.3 921.8,792.1 929.9,791.8 938.1,791.4 946.2,790.8 954.4,790.1 962.5,789.3 970.7,788.4 978.8,787.3 987.0,786.1 995.1,784.8 1003.3,783.3 1011.4,781.8 1019.6,780.0 1027.7,778.2 1035.9,776.2 1044.0,774.2 1052.1,771.9 1060.3,769.6 1068.4,767.1 1076.6,764.5 1084.7,761.8 1092.9,758.9 1101.0,755.9 1109.2,752.8 1117.3,749.6 1125.5,746.2 1133.6,742.7 1141.8,739.1 1149.9,735.3 1158.1,731.4 1166.2,727.4 1174.4,723.3 1182.5,719.0 1190.7,714.6 1198.8,710.1 1207.0,705.4 1215.1,700.6 1223.3,695.7 1231.4,690.7 1239.6,685.5 1247.7,680.2 1255.9,674.8 1264.0,669.3 1272.2,663.6 1280.3,657.8 1288.5,651.8 1296.6,645.8 1304.8,639.6 1312.9,633.3 1321.1,626.8 1329.2,620.2" fill="none" stroke="#2b8cbe" stroke-width="7.3" stroke-linejoin="round"/>
<polygon points="766.9,760.8 775.1,757.8 783.2,754.8 791.4,751.8 799.5,748.8 807.7,745.7 815.8,742.7 824.0,739.6 832.1,736.5 840.3,733.4 848.4,730.3 856.6,727.2 864.7,724.1 872.9,720.9 881.0,717.7 889.2,714.5 897.3,711.3 905.5,708.1 913.6,704.9 921.8,701.6 929.9,698.3 938.1,695.0 946.2,691.7 954.4,688.4 962.5,685.0 970.7,681.6 978.8,678.2 987.0,674.8 995.1,671.4 1003.3,667.9 1011.4,664.4 1019.6,660.9 1027.7,657.4 1035.9,653.8 1044.0,650.2 1052.1,646.6 1060.3,642.9 1068.4,639.2 1076.6,635.5 1084.7,631.7 1092.9,627.9 1101.0,624.1 1109.2,620.2 1117.3,616.3 1125.5,612.3 1133.6,608.3 1141.8,604.2 1149.9,600.0 1158.1,595.8 1166.2,591.6 1174.4,587.2 1182.5,582.8 1190.7,578.3 1198.8,573.7 1207.0,569.0 1215.1,564.2 1223.3,559.3 1231.4,554.3 1239.6,549.1 1247.7,543.8 1255.9,538.4 1264.0,532.7 1272.2,526.9 1280.3,520.9 1288.5,514.7 1296.6,508.3 1304.8,501.6 1312.9,494.6 1321.1,487.4 1329.2,480.0 1329.2,624.4 1321.1,631.1 1312.9,637.9 1304.8,644.7 1296.6,651.6 1288.5,658.5 1280.3,665.3 1272.2,672.1 1264.0,678.9 1255.9,685.7 1247.7,692.3 1239.6,698.9 1231.4,705.4 1223.3,711.8 1215.1,718.1 1207.0,724.3 1198.8,730.4 1190.7,736.3 1182.5,742.0 1174.4,747.7 1166.2,753.1 1158.1,758.4 1149.9,763.6 1141.8,768.5 1133.6,773.3 1125.5,777.9 1117.3,782.4 1109.2,786.6 1101.0,790.7 1092.9,794.6 1084.7,798.2 1076.6,801.7 1068.4,805.0 1060.3,808.1 1052.1,811.0 1044.0,813.7 1035.9,816.2 1027.7,818.5 1019.6,820.5 1011.4,822.4 1003.3,824.1 995.1,825.5 987.0,826.8 978.8,827.8 970.7,828.7 962.5,829.3 954.4,829.7 946.2,829.9 938.1,829.9 929.9,829.6 921.8,829.2 913.6,828.5 905.5,827.7 897.3,826.6 889.2,825.3 881.0,823.7 872.9,822.0 864.7,820.0 856.6,817.9 848.4,815.5 840.3,812.9 832.1,810.1 824.0,807.0 815.8,803.8 807.7,800.3 799.5,796.6 791.4,792.7 783.2,788.5 775.1,784.2 766.9,779.6" fill="#7cc8a4" fill-opacity="0.4"/>
<polyline points="766.9,770.2 775.1,771.0 783.2,771.7 791.4,772.2 799.5,772.7 807.7,773.0 815.8,773.2 824.0,773.3 832.1,773.3 840.3,773.2 848.4,772.9 856.6,772.5 864.7,772.0 872.9,771.4 881.0,770.7 889.2,769.9 897.3,768.9 905.5,767.9 913.6,766.7 921.8,765.4 929.9,764.0 938.1,762.4 946.2,760.8 954.4,759.0 962.5,757.2 970.7,755.2 978.8,753.0 987.0,750.8 995.1,748.5 1003.3,746.0 1011.4,743.4 1019.6,740.7 1027.7,737.9 1035.9,735.0 1044.0,731.9 1052.1,728.8 1060.3,725.5 1068.4,722.1 1076.6,718.6 1084.7,715.0 1092.9,711.2 1101.0,707.4 1109.2,703.4 1117.3,699.3 1125.5,695.1 1133.6,690.8 1141.8,686.4 1149.9,681.8 1158.1,677.1 1166.2,672.3 1174.4,667.4 1182.5,662.4 1190.7,657.3 1198.8,652.0 1207.0,646.7 1215.1,641.2 1223.3,635.6 1231.4,629.9 1239.6,624.0 1247.7,618.1 1255.9,612.0 1264.0,605.8 1272.2,599.5 1280.3,593.1 1288.5,586.6 1296.6,579.9 1304.8,573.2 1312.9,566.3 1321.1,559.3 1329.2,552.2" fill="none" stroke="#7cc8a4" stroke-width="7.3" stroke-linejoin="round"/>
<line x1="739.6" x2="1356.8" y1="767.85" y2="767.85" stroke="#000" stroke-width="3.4"/>
</g>
<rect x="739.6" y="184.0" width="617.2" height="687.0" fill="none" stroke="#333" stroke-width="2.1"/>
<line x1="805.7" x2="805.7" y1="872.0" y2="881.7" stroke="#333" stroke-width="3.3"/>
<text transform="translate(805.7,910.2) scale(1,1.035)" font-size="28.2" fill="#4d4d4d" text-anchor="middle">20</text>
<line x1="999.6" x2="999.6" y1="872.0" y2="881.7" stroke="#333" stroke-width="3.3"/>
<text transform="translate(999.6,910.2) scale(1,1.035)" font-size="28.2" fill="#4d4d4d" text-anchor="middle">30</text>
<line x1="1193.5" x2="1193.5" y1="872.0" y2="881.7" stroke="#333" stroke-width="3.3"/>
<text transform="translate(1193.5,910.2) scale(1,1.035)" font-size="28.2" fill="#4d4d4d" text-anchor="middle">40</text>
</g>
<g id="panel2">
<rect x="1377.9" y="120.5" width="617.2" height="62.2" fill="#d9d9d9" stroke="#333" stroke-width="2.1"/>
<text transform="translate(1686.5,163.8) scale(1,1.035)" font-size="35.5" fill="#1a1a1a" text-anchor="middle">Combined sample</text>
<clipPath id="cp2"><rect x="1377.9" y="184.0" width="617.2" height="687.0"/></clipPath>
<g clip-path="url(#cp2)">
<line x1="1377.9" x2="1995.1" y1="666.3" y2="666.3" stroke="#ebebeb" stroke-width="1.75"/>
<line x1="1377.9" x2="1995.1" y1="488.8" y2="488.8" stroke="#ebebeb" stroke-width="1.75"/>
<line x1="1377.9" x2="1995.1" y1="352.3" y2="352.3" stroke="#ebebeb" stroke-width="1.75"/>
<line x1="1377.9" x2="1995.1" y1="241.3" y2="241.3" stroke="#ebebeb" stroke-width="1.75"/>
<line x1="1377.9" x2="1995.1" y1="869.4" y2="869.4" stroke="#ebebeb" stroke-width="1.75"/>
<line x1="1541.6" x2="1541.6" y1="184.0" y2="871.0" stroke="#ebebeb" stroke-width="1.75"/>
<line x1="1712.1" x2="1712.1" y1="184.0" y2="871.0" stroke="#ebebeb" stroke-width="1.75"/>
<line x1="1882.7" x2="1882.7" y1="184.0" y2="871.0" stroke="#ebebeb" stroke-width="1.75"/>
<line x1="1377.9" x2="1995.1" y1="767.9" y2="767.9" stroke="#ebebeb" stroke-width="3.6"/>
<line x1="1377.9" x2="1995.1" y1="564.7" y2="564.7" stroke="#ebebeb" stroke-width="3.6"/>
<line x1="1377.9" x2="1995.1" y1="412.9" y2="412.9" stroke="#ebebeb" stroke-width="3.6"/>
<line x1="1377.9" x2="1995.1" y1="291.7" y2="291.7" stroke="#ebebeb" stroke-width="3.6"/>
<line x1="1377.9" x2="1995.1" y1="190.8" y2="190.8" stroke="#ebebeb" stroke-width="3.6"/>
<line x1="1456.3" x2="1456.3" y1="184.0" y2="871.0" stroke="#ebebeb" stroke-width="3.6"/>
<line x1="1626.8" x2="1626.8" y1="184.0" y2="871.0" stroke="#ebebeb" stroke-width="3.6"/>
<line x1="1797.4" x2="1797.4" y1="184.0" y2="871.0" stroke="#ebebeb" stroke-width="3.6"/>
<line x1="1967.9" x2="1967.9" y1="184.0" y2="871.0" stroke="#ebebeb" stroke-width="3.6"/>
<polygon points="1405.1,767.9 1413.3,766.1 1421.4,764.4 1429.6,762.7 1437.8,761.0 1445.9,759.3 1454.1,757.6 1462.2,755.9 1470.4,754.2 1478.5,752.5 1486.7,750.8 1494.9,749.1 1503.0,747.3 1511.2,745.6 1519.3,743.9 1527.5,742.2 1535.6,740.5 1543.8,738.7 1552.0,737.0 1560.1,735.3 1568.3,733.5 1576.4,731.8 1584.6,730.0 1592.7,728.3 1600.9,726.5 1609.1,724.8 1617.2,723.0 1625.4,721.2 1633.5,719.4 1641.7,717.7 1649.8,715.9 1658.0,714.1 1666.2,712.2 1674.3,710.4 1682.5,708.6 1690.6,706.7 1698.8,704.9 1706.9,703.0 1715.1,701.1 1723.2,699.2 1731.4,697.2 1739.6,695.3 1747.7,693.3 1755.9,691.3 1764.0,689.2 1772.2,687.2 1780.3,685.1 1788.5,682.9 1796.7,680.8 1804.8,678.5 1813.0,676.3 1821.1,673.9 1829.3,671.5 1837.4,669.1 1845.6,666.5 1853.8,663.9 1861.9,661.2 1870.1,658.4 1878.2,655.4 1886.4,652.4 1894.5,649.2 1902.7,645.9 1910.9,642.4 1919.0,638.7 1927.2,634.9 1935.3,630.9 1943.5,626.6 1951.6,622.2 1959.8,617.5 1967.9,612.6 1967.9,698.9 1959.8,702.2 1951.6,705.6 1943.5,709.1 1935.3,712.6 1927.2,716.2 1919.0,719.8 1910.9,723.5 1902.7,727.2 1894.5,730.9 1886.4,734.6 1878.2,738.3 1870.1,741.9 1861.9,745.6 1853.8,749.1 1845.6,752.7 1837.4,756.1 1829.3,759.6 1821.1,762.9 1813.0,766.1 1804.8,769.3 1796.7,772.3 1788.5,775.3 1780.3,778.1 1772.2,780.9 1764.0,783.5 1755.9,786.0 1747.7,788.5 1739.6,790.7 1731.4,792.9 1723.2,794.9 1715.1,796.9 1706.9,798.6 1698.8,800.3 1690.6,801.8 1682.5,803.2 1674.3,804.5 1666.2,805.6 1658.0,806.6 1649.8,807.5 1641.7,808.2 1633.5,808.8 1625.4,809.2 1617.2,809.5 1609.1,809.7 1600.9,809.8 1592.7,809.6 1584.6,809.4 1576.4,809.0 1568.3,808.5 1560.1,807.8 1552.0,807.0 1543.8,806.0 1535.6,804.9 1527.5,803.7 1519.3,802.3 1511.2,800.8 1503.0,799.1 1494.9,797.3 1486.7,795.4 1478.5,793.3 1470.4,791.0 1462.2,788.6 1454.1,786.1 1445.9,783.4 1437.8,780.6 1429.6,777.6 1421.4,774.5 1413.3,771.3 1405.1,767.9" fill="#000000" fill-opacity="0.4"/>
<polyline points="1405.1,767.9 1413.3,768.7 1421.4,769.5 1429.6,770.2 1437.8,770.8 1445.9,771.4 1454.1,771.8 1462.2,772.3 1470.4,772.6 1478.5,772.9 1486.7,773.1 1494.9,773.2 1503.0,773.2 1511.2,773.2 1519.3,773.1 1527.5,772.9 1535.6,772.7 1543.8,772.4 1552.0,772.0 1560.1,771.5 1568.3,771.0 1576.4,770.4 1584.6,769.7 1592.7,769.0 1600.9,768.1 1609.1,767.2 1617.2,766.3 1625.4,765.2 1633.5,764.1 1641.7,762.9 1649.8,761.7 1658.0,760.3 1666.2,758.9 1674.3,757.5 1682.5,755.9 1690.6,754.3 1698.8,752.6 1706.9,750.8 1715.1,749.0 1723.2,747.1 1731.4,745.1 1739.6,743.0 1747.7,740.9 1755.9,738.7 1764.0,736.4 1772.2,734.0 1780.3,731.6 1788.5,729.1 1796.7,726.5 1804.8,723.9 1813.0,721.2 1821.1,718.4 1829.3,715.5 1837.4,712.6 1845.6,709.6 1853.8,706.5 1861.9,703.4 1870.1,700.1 1878.2,696.9 1886.4,693.5 1894.5,690.0 1902.7,686.5 1910.9,682.9 1919.0,679.3 1927.2,675.5 1935.3,671.7 1943.5,667.9 1951.6,663.9 1959.8,659.9 1967.9,655.8" fill="none" stroke="#000000" stroke-width="7.3" stroke-linejoin="round"/>
<polygon points="1405.1,767.9 1413.3,768.9 1421.4,769.8 1429.6,770.6 1437.8,771.2 1445.9,771.8 1454.1,772.3 1462.2,772.6 1470.4,772.9 1478.5,773.0 1486.7,773.0 1494.9,773.0 1503.0,772.8 1511.2,772.5 1519.3,772.0 1527.5,771.5 1535.6,770.9 1543.8,770.1 1552.0,769.3 1560.1,768.3 1568.3,767.2 1576.4,766.0 1584.6,764.7 1592.7,763.3 1600.9,761.8 1609.1,760.1 1617.2,758.4 1625.4,756.5 1633.5,754.5 1641.7,752.4 1649.8,750.2 1658.0,747.9 1666.2,745.4 1674.3,742.9 1682.5,740.2 1690.6,737.4 1698.8,734.5 1706.9,731.4 1715.1,728.3 1723.2,725.0 1731.4,721.6 1739.6,718.0 1747.7,714.3 1755.9,710.5 1764.0,706.6 1772.2,702.5 1780.3,698.3 1788.5,694.0 1796.7,689.5 1804.8,684.8 1813.0,680.0 1821.1,675.0 1829.3,669.9 1837.4,664.6 1845.6,659.1 1853.8,653.4 1861.9,647.6 1870.1,641.5 1878.2,635.2 1886.4,628.7 1894.5,622.0 1902.7,615.0 1910.9,607.8 1919.0,600.4 1927.2,592.7 1935.3,584.8 1943.5,576.6 1951.6,568.2 1959.8,559.5 1967.9,550.5 1967.9,605.6 1959.8,612.7 1951.6,619.7 1943.5,626.6 1935.3,633.5 1927.2,640.3 1919.0,647.1 1910.9,653.8 1902.7,660.5 1894.5,667.1 1886.4,673.6 1878.2,680.0 1870.1,686.3 1861.9,692.5 1853.8,698.7 1845.6,704.7 1837.4,710.6 1829.3,716.3 1821.1,721.9 1813.0,727.4 1804.8,732.7 1796.7,737.9 1788.5,742.9 1780.3,747.8 1772.2,752.5 1764.0,757.0 1755.9,761.3 1747.7,765.5 1739.6,769.5 1731.4,773.3 1723.2,776.9 1715.1,780.4 1706.9,783.6 1698.8,786.7 1690.6,789.6 1682.5,792.3 1674.3,794.8 1666.2,797.1 1658.0,799.3 1649.8,801.2 1641.7,802.9 1633.5,804.5 1625.4,805.8 1617.2,807.0 1609.1,808.0 1600.9,808.7 1592.7,809.3 1584.6,809.7 1576.4,809.9 1568.3,809.8 1560.1,809.6 1552.0,809.2 1543.8,808.6 1535.6,807.8 1527.5,806.8 1519.3,805.6 1511.2,804.2 1503.0,802.6 1494.9,800.8 1486.7,798.8 1478.5,796.6 1470.4,794.2 1462.2,791.6 1454.1,788.8 1445.9,785.8 1437.8,782.6 1429.6,779.2 1421.4,775.6 1413.3,771.8 1405.1,767.9" fill="#d95f0e" fill-opacity="0.4"/>
<polyline points="1405.1,767.9 1413.3,770.4 1421.4,772.7 1429.6,774.9 1437.8,776.9 1445.9,778.8 1454.1,780.5 1462.2,782.1 1470.4,783.5 1478.5,784.8 1486.7,785.9 1494.9,786.9 1503.0,787.7 1511.2,788.3 1519.3,788.8 1527.5,789.2 1535.6,789.3 1543.8,789.4 1552.0,789.2 1560.1,789.0 1568.3,788.5 1576.4,787.9 1584.6,787.2 1592.7,786.3 1600.9,785.3 1609.1,784.0 1617.2,782.7 1625.4,781.2 1633.5,779.5 1641.7,777.7 1649.8,775.7 1658.0,773.6 1666.2,771.3 1674.3,768.8 1682.5,766.2 1690.6,763.5 1698.8,760.6 1706.9,757.5 1715.1,754.3 1723.2,750.9 1731.4,747.4 1739.6,743.7 1747.7,739.9 1755.9,735.9 1764.0,731.8 1772.2,727.5 1780.3,723.0 1788.5,718.4 1796.7,713.7 1804.8,708.8 1813.0,703.7 1821.1,698.5 1829.3,693.1 1837.4,687.6 1845.6,681.9 1853.8,676.0 1861.9,670.1 1870.1,663.9 1878.2,657.6 1886.4,651.1 1894.5,644.5 1902.7,637.8 1910.9,630.8 1919.0,623.8 1927.2,616.5 1935.3,609.2 1943.5,601.6 1951.6,593.9 1959.8,586.1 1967.9,578.1" fill="none" stroke="#d95f0e" stroke-width="7.3" stroke-linejoin="round"/>
<polygon points="1405.1,767.9 1413.3,765.1 1421.4,762.3 1429.6,759.5 1437.8,756.5 1445.9,753.5 1454.1,750.5 1462.2,747.4 1470.4,744.2 1478.5,740.9 1486.7,737.6 1494.9,734.2 1503.0,730.8 1511.2,727.3 1519.3,723.7 1527.5,720.0 1535.6,716.3 1543.8,712.5 1552.0,708.7 1560.1,704.8 1568.3,700.8 1576.4,696.7 1584.6,692.6 1592.7,688.4 1600.9,684.2 1609.1,679.8 1617.2,675.4 1625.4,671.0 1633.5,666.4 1641.7,661.8 1649.8,657.2 1658.0,652.4 1666.2,647.6 1674.3,642.7 1682.5,637.7 1690.6,632.7 1698.8,627.5 1706.9,622.3 1715.1,617.0 1723.2,611.7 1731.4,606.2 1739.6,600.7 1747.7,595.1 1755.9,589.4 1764.0,583.6 1772.2,577.7 1780.3,571.8 1788.5,565.7 1796.7,559.5 1804.8,553.3 1813.0,546.9 1821.1,540.4 1829.3,533.9 1837.4,527.2 1845.6,520.4 1853.8,513.4 1861.9,506.4 1870.1,499.2 1878.2,491.9 1886.4,484.4 1894.5,476.8 1902.7,469.1 1910.9,461.2 1919.0,453.2 1927.2,445.0 1935.3,436.6 1943.5,428.1 1951.6,419.5 1959.8,410.6 1967.9,401.6 1967.9,463.6 1959.8,471.0 1951.6,478.4 1943.5,485.7 1935.3,493.0 1927.2,500.3 1919.0,507.6 1910.9,514.8 1902.7,522.0 1894.5,529.1 1886.4,536.2 1878.2,543.3 1870.1,550.3 1861.9,557.3 1853.8,564.2 1845.6,571.0 1837.4,577.7 1829.3,584.4 1821.1,591.0 1813.0,597.6 1804.8,604.0 1796.7,610.3 1788.5,616.6 1780.3,622.7 1772.2,628.8 1764.0,634.7 1755.9,640.5 1747.7,646.2 1739.6,651.8 1731.4,657.3 1723.2,662.7 1715.1,667.9 1706.9,673.0 1698.8,678.0 1690.6,682.9 1682.5,687.6 1674.3,692.2 1666.2,696.7 1658.0,701.0 1649.8,705.2 1641.7,709.3 1633.5,713.3 1625.4,717.1 1617.2,720.8 1609.1,724.3 1600.9,727.7 1592.7,731.0 1584.6,734.1 1576.4,737.1 1568.3,740.0 1560.1,742.7 1552.0,745.3 1543.8,747.8 1535.6,750.1 1527.5,752.2 1519.3,754.3 1511.2,756.1 1503.0,757.9 1494.9,759.5 1486.7,761.0 1478.5,762.3 1470.4,763.5 1462.2,764.5 1454.1,765.4 1445.9,766.2 1437.8,766.8 1429.6,767.3 1421.4,767.6 1413.3,767.8 1405.1,767.9" fill="#2b8cbe" fill-opacity="0.4"/>
<polyline points="1405.1,767.9 1413.3,766.4 1421.4,764.9 1429.6,763.3 1437.8,761.6 1445.9,759.7 1454.1,757.8 1462.2,755.8 1470.4,753.6 1478.5,751.4 1486.7,749.1 1494.9,746.6 1503.0,744.1 1511.2,741.4 1519.3,738.7 1527.5,735.9 1535.6,732.9 1543.8,729.9 1552.0,726.7 1560.1,723.5 1568.3,720.1 1576.4,716.7 1584.6,713.1 1592.7,709.5 1600.9,705.7 1609.1,701.9 1617.2,697.9 1625.4,693.8 1633.5,689.7 1641.7,685.4 1649.8,681.1 1658.0,676.6 1666.2,672.0 1674.3,667.4 1682.5,662.6 1690.6,657.7 1698.8,652.7 1706.9,647.7 1715.1,642.5 1723.2,637.2 1731.4,631.8 1739.6,626.4 1747.7,620.8 1755.9,615.1 1764.0,609.3 1772.2,603.4 1780.3,597.4 1788.5,591.4 1796.7,585.2 1804.8,578.9 1813.0,572.5 1821.1,566.0 1829.3,559.4 1837.4,552.7 1845.6,545.9 1853.8,539.0 1861.9,532.0 1870.1,524.9 1878.2,517.7 1886.4,510.4 1894.5,503.0 1902.7,495.5 1910.9,487.9 1919.0,480.2 1927.2,472.3 1935.3,464.4 1943.5,456.4 1951.6,448.3 1959.8,440.1 1967.9,431.8" fill="none" stroke="#2b8cbe" stroke-width="7.3" stroke-linejoin="round"/>
<polygon points="1405.1,767.9 1413.3,762.7 1421.4,757.6 1429.6,752.3 1437.8,747.1 1445.9,741.7 1454.1,736.4 1462.2,731.0 1470.4,725.5 1478.5,720.0 1486.7,714.4 1494.9,708.8 1503.0,703.1 1511.2,697.4 1519.3,691.6 1527.5,685.8 1535.6,680.0 1543.8,674.0 1552.0,668.0 1560.1,662.0 1568.3,655.9 1576.4,649.8 1584.6,643.6 1592.7,637.3 1600.9,631.0 1609.1,624.6 1617.2,618.2 1625.4,611.7 1633.5,605.1 1641.7,598.5 1649.8,591.8 1658.0,585.0 1666.2,578.1 1674.3,571.2 1682.5,564.2 1690.6,557.2 1698.8,550.0 1706.9,542.8 1715.1,535.5 1723.2,528.1 1731.4,520.6 1739.6,513.0 1747.7,505.2 1755.9,497.4 1764.0,489.5 1772.2,481.4 1780.3,473.2 1788.5,464.9 1796.7,456.4 1804.8,447.7 1813.0,438.9 1821.1,429.9 1829.3,420.7 1837.4,411.3 1845.6,401.6 1853.8,391.8 1861.9,381.7 1870.1,371.3 1878.2,360.7 1886.4,349.7 1894.5,338.5 1902.7,327.0 1910.9,315.1 1919.0,302.9 1927.2,290.4 1935.3,277.6 1943.5,264.4 1951.6,250.8 1959.8,237.0 1967.9,222.7 1967.9,366.7 1959.8,376.2 1951.6,385.8 1943.5,395.4 1935.3,405.1 1927.2,414.8 1919.0,424.5 1910.9,434.3 1902.7,444.1 1894.5,453.9 1886.4,463.8 1878.2,473.6 1870.1,483.5 1861.9,493.3 1853.8,503.1 1845.6,512.9 1837.4,522.5 1829.3,532.1 1821.1,541.7 1813.0,551.1 1804.8,560.4 1796.7,569.6 1788.5,578.6 1780.3,587.5 1772.2,596.3 1764.0,604.9 1755.9,613.3 1747.7,621.5 1739.6,629.6 1731.4,637.5 1723.2,645.1 1715.1,652.6 1706.9,659.9 1698.8,667.0 1690.6,673.8 1682.5,680.5 1674.3,686.9 1666.2,693.1 1658.0,699.1 1649.8,704.9 1641.7,710.4 1633.5,715.7 1625.4,720.8 1617.2,725.7 1609.1,730.3 1600.9,734.7 1592.7,738.8 1584.6,742.7 1576.4,746.4 1568.3,749.9 1560.1,753.1 1552.0,756.0 1543.8,758.8 1535.6,761.2 1527.5,763.5 1519.3,765.5 1511.2,767.2 1503.0,768.8 1494.9,770.0 1486.7,771.1 1478.5,771.8 1470.4,772.4 1462.2,772.7 1454.1,772.7 1445.9,772.5 1437.8,772.1 1429.6,771.4 1421.4,770.5 1413.3,769.3 1405.1,767.9" fill="#7cc8a4" fill-opacity="0.4"/>
<polyline points="1405.1,767.9 1413.3,766.0 1421.4,764.0 1429.6,761.9 1437.8,759.6 1445.9,757.1 1454.1,754.5 1462.2,751.8 1470.4,748.9 1478.5,745.9 1486.7,742.7 1494.9,739.4 1503.0,735.9 1511.2,732.3 1519.3,728.6 1527.5,724.7 1535.6,720.6 1543.8,716.4 1552.0,712.0 1560.1,707.5 1568.3,702.9 1576.4,698.1 1584.6,693.2 1592.7,688.1 1600.9,682.8 1609.1,677.4 1617.2,671.9 1625.4,666.2 1633.5,660.4 1641.7,654.4 1649.8,648.3 1658.0,642.0 1666.2,635.6 1674.3,629.1 1682.5,622.4 1690.6,615.5 1698.8,608.5 1706.9,601.4 1715.1,594.1 1723.2,586.6 1731.4,579.0 1739.6,571.3 1747.7,563.4 1755.9,555.4 1764.0,547.2 1772.2,538.8 1780.3,530.4 1788.5,521.7 1796.7,513.0 1804.8,504.0 1813.0,495.0 1821.1,485.8 1829.3,476.4 1837.4,466.9 1845.6,457.2 1853.8,447.4 1861.9,437.5 1870.1,427.4 1878.2,417.2 1886.4,406.8 1894.5,396.2 1902.7,385.5 1910.9,374.7 1919.0,363.7 1927.2,352.6 1935.3,341.3 1943.5,329.9 1951.6,318.3 1959.8,306.6 1967.9,294.7" fill="none" stroke="#7cc8a4" stroke-width="7.3" stroke-linejoin="round"/>
<line x1="1377.9" x2="1995.1" y1="767.85" y2="767.85" stroke="#000" stroke-width="3.4"/>
</g>
<rect x="1377.9" y="184.0" width="617.2" height="687.0" fill="none" stroke="#333" stroke-width="2.1"/>
<line x1="1456.3" x2="1456.3" y1="872.0" y2="881.7" stroke="#333" stroke-width="3.3"/>
<text transform="translate(1456.3,910.2) scale(1,1.035)" font-size="28.2" fill="#4d4d4d" text-anchor="middle">20</text>
<line x1="1626.8" x2="1626.8" y1="872.0" y2="881.7" stroke="#333" stroke-width="3.3"/>
<text transform="translate(1626.8,910.2) scale(1,1.035)" font-size="28.2" fill="#4d4d4d" text-anchor="middle">30</text>
<line x1="1797.4" x2="1797.4" y1="872.0" y2="881.7" stroke="#333" stroke-width="3.3"/>
<text transform="translate(1797.4,910.2) scale(1,1.035)" font-size="28.2" fill="#4d4d4d" text-anchor="middle">40</text>
<line x1="1967.9" x2="1967.9" y1="872.0" y2="881.7" stroke="#333" stroke-width="3.3"/>
<text transform="translate(1967.9,910.2) scale(1,1.035)" font-size="28.2" fill="#4d4d4d" text-anchor="middle">50</text>
</g>
<line x1="91.2" x2="100.3" y1="767.9" y2="767.9" stroke="#333" stroke-width="3.3"/>
<text transform="translate(82.6,778.0) scale(1,1.035)" font-size="28.2" fill="#4d4d4d" text-anchor="end">1.0</text>
<line x1="91.2" x2="100.3" y1="564.7" y2="564.7" stroke="#333" stroke-width="3.3"/>
<text transform="translate(82.6,574.8) scale(1,1.035)" font-size="28.2" fill="#4d4d4d" text-anchor="end">1.4</text>
<line x1="91.2" x2="100.3" y1="412.9" y2="412.9" stroke="#333" stroke-width="3.3"/>
<text transform="translate(82.6,423.0) scale(1,1.035)" font-size="28.2" fill="#4d4d4d" text-anchor="end">1.8</text>
<line x1="91.2" x2="100.3" y1="291.7" y2="291.7" stroke="#333" stroke-width="3.3"/>
<text transform="translate(82.6,301.8) scale(1,1.035)" font-size="28.2" fill="#4d4d4d" text-anchor="end">2.2</text>
<line x1="91.2" x2="100.3" y1="190.8" y2="190.8" stroke="#333" stroke-width="3.3"/>
<text transform="translate(82.6,200.9) scale(1,1.035)" font-size="28.2" fill="#4d4d4d" text-anchor="end">2.6</text>
<text transform="translate(1048.2,950.8) scale(1,1.035)" font-size="35.5" fill="#000" text-anchor="middle">Age</text>
<text transform="translate(26.7,531.5) rotate(-90) scale(1,1.035)" font-size="35.35" fill="#000" text-anchor="middle">OR (log scale) of hypertension relative to age 17</text>
</svg>
</body></html>
